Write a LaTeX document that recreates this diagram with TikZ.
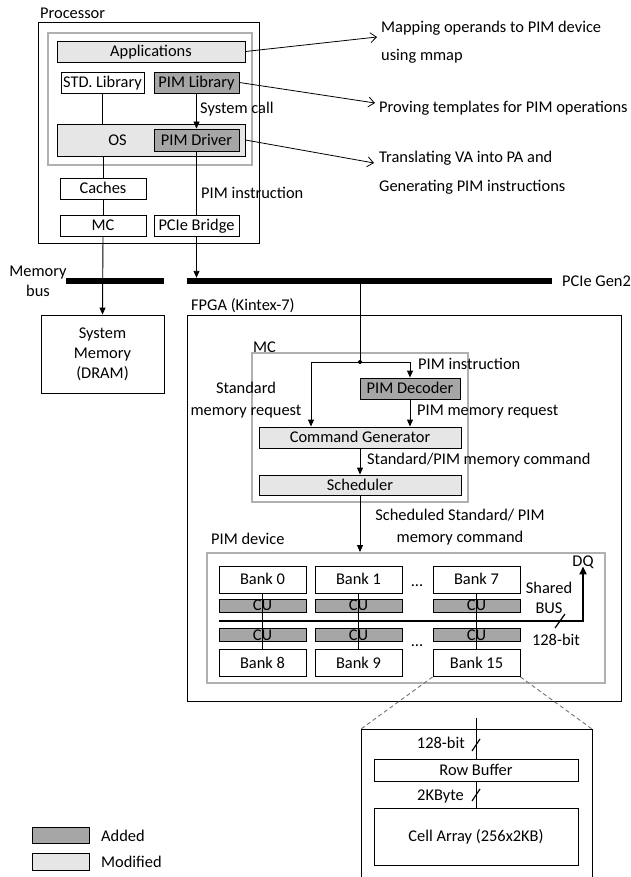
\documentclass[tikz,border=0pt]{standalone}
\usepackage{fontspec}
\setmainfont{Carlito}
\usetikzlibrary{arrows.meta}
\definecolor{addgray}{HTML}{A6A6A6}
\definecolor{modgray}{HTML}{E6E6E6}
\definecolor{framegray}{HTML}{B0B0B0}
\definecolor{dashgray}{HTML}{707070}

\begin{document}
\begin{tikzpicture}[x=1pt,y=-1pt,
  font=\fontsize{16.4}{19.7}\selectfont,
  blk/.style={draw, line width=0.9pt, inner sep=0pt, text height=10.5pt, text depth=0pt},
  added/.style={blk, fill=addgray},
  modified/.style={blk, fill=modgray},
  frame/.style={draw=framegray, line width=2pt, inner sep=0pt},
  lbl/.style={inner sep=0pt, anchor=west, text height=10.5pt, text depth=0pt},
  clbl/.style={inner sep=0pt, text height=10.5pt, text depth=0pt},
  mlbl/.style={inner sep=0pt, align=center},
  wire/.style={line width=0.9pt},
  arr/.style={wire, -{Triangle[length=7pt,width=6pt]}},
  note/.style={line width=0.8pt, -{Straight Barb[length=6pt,width=10pt]}},
  bar/.style={fill=black, inner sep=0pt, minimum height=6pt},
  bank/.style={blk, minimum width=87pt, minimum height=27pt},
  cu/.style={added, minimum width=87pt, minimum height=13pt},
  slash/.style={line width=1.2pt},
]
\useasboundingbox (0,0) rectangle (631,877);

% ---------------- Processor ----------------
\node[blk, minimum width=221pt, minimum height=221pt] (proc) at (148.5,132.5) {};
\node[lbl] (proclbl) at (40,13) {Processor};
\node[frame, minimum width=204pt, minimum height=132pt] (sw) at (150,99) {};
\node[modified, minimum width=188pt, minimum height=21pt] (apps) at (151,51.5) {Applications};
\node[blk, minimum width=83pt, minimum height=21pt] (stdlib) at (102.5,82.5) {STD. Library};
\node[added, minimum width=85pt, minimum height=21pt] (pimlib) at (196.5,82.5) {PIM Library};
\node[modified, minimum width=188pt, minimum height=32pt] (os) at (151,140) {};
\node[clbl] (ostxt) at (117.5,140) {OS};
\node[added, minimum width=85pt, minimum height=22pt] (pimdrv) at (196.5,140) {PIM Driver};
\node[blk, minimum width=86pt, minimum height=21pt] (caches) at (103,188.5) {Caches};
\node[blk, minimum width=86pt, minimum height=21pt] (mc1) at (103,225.5) {MC};
\node[blk, minimum width=85pt, minimum height=21pt] (bridge) at (196.5,225.5) {PCIe Bridge};

\node[lbl] (syscall) at (200,108) {System call};
\node[lbl] (pimins1) at (201,193) {PIM instruction};

% ---------------- Buses ----------------
\node[bar, minimum width=98pt] (membus) at (115,281) {};
\node[bar, minimum width=365pt] (pcie) at (369.5,281) {};
\node[mlbl] (membuslbl) at (38,281) {Memory\\bus};
\node[lbl] (pcielbl) at (562,281) {PCIe Gen2};

\node[draw, line width=0.9pt, inner sep=0pt, align=center, minimum width=123pt, minimum height=78pt,
      font=\fontsize{16.4}{20}\selectfont] (sysmem) at (102.5,354) {System\\Memory\\(DRAM)};

% processor connections
\draw[wire] (stdlib.south) -- (stdlib.south |- os.north);
\draw[wire] (os.south -| caches.north) -- (caches.north);
\draw[wire] (caches.south) -- (mc1.north);
\draw[arr] (mc1.south) -- (sysmem.north);
\draw[arr] (pimlib.south) -- (pimdrv.north);
\draw[wire] (pimdrv.south) -- (bridge.north);
\draw[arr] (bridge.south) -- (bridge.south |- pcie.north);

% annotations
\coordinate (n1) at (377,37);
\coordinate (n2) at (375,103);
\coordinate (n3) at (374,163);
\draw[note] (apps.east) -- (n1);
\draw[note] (pimlib.east) -- (n2);
\draw[note] (pimdrv.east -| os.east) -- (n3);
\node[lbl] (t1a) at (381,27) {Mapping operands to PIM device};
\node[lbl] (t1b) at (381,55) {using mmap};
\node[lbl] (t2) at (379,107) {Proving templates for PIM operations};
\node[lbl] (t3a) at (379,157) {Translating VA into PA and};
\node[lbl] (t3b) at (379,186) {Generating PIM instructions};

% ---------------- FPGA ----------------
\node[blk, minimum width=434pt, minimum height=386pt] (fpga) at (404,508) {};
\node[lbl] (fpgalbl) at (191,305) {FPGA (Kintex-7)};
\node[frame, minimum width=216pt, minimum height=149pt] (mcbox) at (360,427.5) {};
\node[lbl] (mclbl) at (253,347) {MC};

\node[added, minimum width=100pt, minimum height=21pt] (pimdec) at (410,388.5) {PIM Decoder};
\node[modified, minimum width=202pt, minimum height=21pt] (cmdgen) at (360,437.5) {Command Generator};
\node[modified, minimum width=202pt, minimum height=20pt] (sched) at (360,485) {Scheduler};

\coordinate (split) at (360,362);
\coordinate (stdtap) at (311,362);
\draw[wire] (pcie.south -| split) -- (split);
\fill (split) circle (2pt);
\draw[arr] (split) -| (pimdec.north);
\draw[arr] (split) -- (stdtap) -- (stdtap |- cmdgen.north);
\draw[arr] (pimdec.south) -- (pimdec.south |- cmdgen.north);
\draw[arr] (cmdgen.south) -- (sched.north);

\node[lbl] (pimins2) at (418,364) {PIM instruction};
\node[mlbl, font=\fontsize{16.4}{22}\selectfont] (stdreq) at (246,400) {Standard\\memory request};
\node[lbl] (pimreq) at (417,410) {PIM memory request};
\node[lbl] (cmdlbl) at (367,459) {Standard/PIM memory command};
\node[mlbl, font=\fontsize{16.4}{22}\selectfont] (schedlbl) at (460,527) {Scheduled Standard/ PIM\\memory command};

% ---------------- PIM device ----------------
\node[frame, minimum width=398pt, minimum height=130pt] (pimdev) at (406,618) {};
\node[lbl] (pimdevlbl) at (211,539) {PIM device};
\draw[arr] (sched.south) -- (sched.south |- pimdev.north);

\node[bank] (b0) at (262.5,579.5) {Bank 0};
\node[bank] (b1) at (358.5,579.5) {Bank 1};
\node[bank] (b7) at (476.5,579.5) {Bank 7};
\node[cu] (c0) at (262.5,605.5) {CU};
\node[cu] (c1) at (358.5,605.5) {CU};
\node[cu] (c7) at (476.5,605.5) {CU};
\node[cu] (c8) at (262.5,635) {CU};
\node[cu] (c9) at (358.5,635) {CU};
\node[cu] (c15) at (476.5,635) {CU};
\node[bank] (b8) at (262.5,663) {Bank 8};
\node[bank] (b9) at (358.5,663) {Bank 9};
\node[bank] (b15) at (476.5,663) {Bank 15};
\node[inner sep=0pt, anchor=base] (dots1) at (417,586) {...};
\node[inner sep=0pt, anchor=base] (dots2) at (417,646) {...};

\draw[wire] (b0.south) -- (b8.north);
\draw[wire] (b1.south) -- (b9.north);
\draw[wire] (b7.south) -- (b15.north);

\node[clbl] (dq) at (583,561) {DQ};
\coordinate (busw) at (219,621);
\draw[line width=2pt, -{Triangle[length=8pt,width=7pt]}] (busw) -| (dq.south);
\coordinate (busslash) at (560,621);
\draw[slash] (busslash) ++(-5,7) -- ++(10,-14);
\node[mlbl, font=\fontsize{16.4}{20}\selectfont] (sharedlbl) at (549,598) {Shared\\BUS};
\node[clbl] (buswidth) at (556,640) {128-bit};

% ---------------- Bank detail ----------------
\coordinate (dtl) at (361,729);
\coordinate (dtr) at (592,729);
\coordinate (dbl) at (361,878);
\coordinate (dbr) at (592,878);
\draw[wire, dashgray, dash pattern=on 4pt off 3pt] (b15.south west) -- (dtl);
\draw[wire, dashgray, dash pattern=on 4pt off 3pt] (b15.south east) -- (dtr);
\draw[wire] (dbl) -- (dtl) -- (dtr) -- (dbr);

\node[blk, minimum width=204pt, minimum height=22pt] (rowbuf) at (476,770) {Row Buffer};
\node[blk, minimum width=204pt, minimum height=57pt] (cell) at (476,836.5) {Cell Array (256x2KB)};
\coordinate (dtop) at (476,718);
\draw[wire] (dtop) -- (rowbuf.north);
\draw[wire] (rowbuf.south) -- (cell.north);
\coordinate (s1) at (476,745);
\coordinate (s2) at (476,795);
\draw[slash] (s1) ++(-4,6) -- ++(8,-12);
\draw[slash] (s2) ++(-4,6) -- ++(8,-12);
\node[clbl, anchor=east] (w1) at (465,743) {128-bit};
\node[clbl, anchor=east] (w2) at (464,795) {2KByte};

% ---------------- Legend ----------------
\node[added, minimum width=57pt, minimum height=16pt] (legadd) at (60.5,835) {};
\node[modified, minimum width=57pt, minimum height=17pt] (legmod) at (60.5,861.5) {};
\node[lbl] (legaddlbl) at (101,836) {Added};
\node[lbl] (legmodlbl) at (101,862) {Modified};
\end{tikzpicture}
\end{document}
